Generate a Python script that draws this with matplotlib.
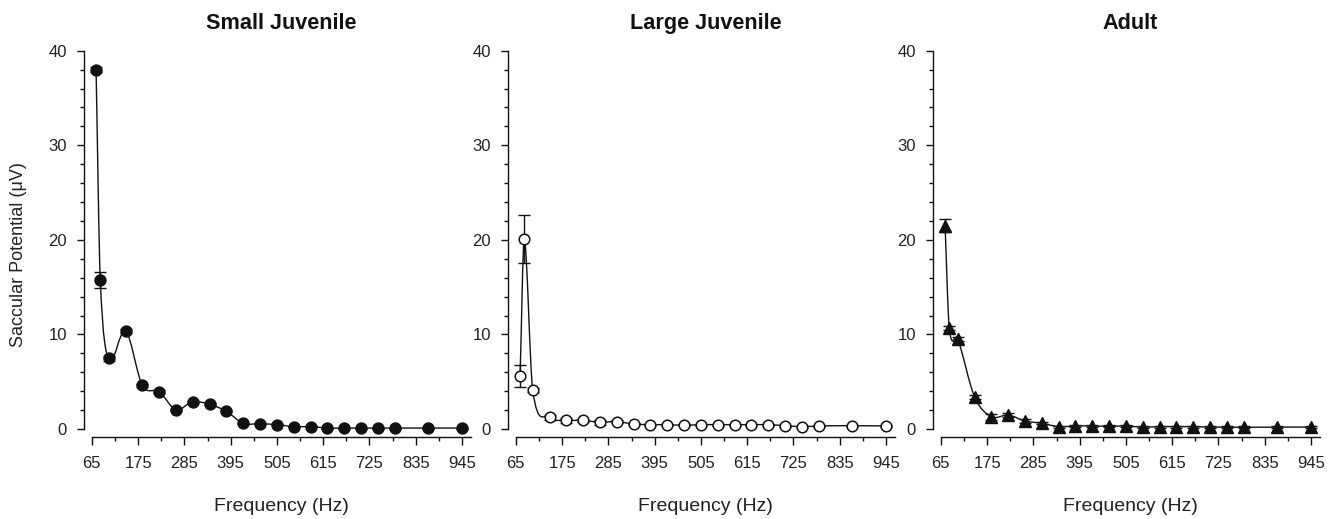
import numpy as np
import matplotlib
matplotlib.use("Agg")
import matplotlib.pyplot as plt
from matplotlib.path import Path
from matplotlib.patches import PathPatch
from matplotlib.ticker import MultipleLocator, FixedLocator

plt.rcParams['font.family'] = ['Liberation Sans', 'DejaVu Sans']

# ---------------- data ----------------
freq = [75, 85, 105, 145, 185, 225, 265, 305, 345, 385, 425, 465, 505, 545,
        585, 625, 665, 705, 745, 785, 865, 945]

small = [38.0, 15.75, 7.47, 10.4, 4.62, 3.95, 2.04, 2.89, 2.61, 1.87, 0.6, 0.56,
         0.46, 0.25, 0.25, 0.1, 0.1, 0.1, 0.1, 0.1, 0.1, 0.1]
small_err = [0.3, 0.85, 0.3, 0.2, 0.15, 0.15, 0.1, 0.1, 0.1, 0.1, 0.05, 0.05,
             0.05, 0.05, 0.05, 0.05, 0.05, 0.05, 0.05, 0.05, 0.05, 0.05]

large = [5.6, 20.09, 4.12, 1.23, 0.92, 0.92, 0.7, 0.78, 0.53, 0.46, 0.46, 0.39,
         0.46, 0.46, 0.46, 0.46, 0.46, 0.35, 0.25, 0.32, 0.35, 0.32]
large_err = [1.15, 2.5, 0.2, 0.3, 0.25, 0.15, 0.3, 0.15, 0.1, 0.1, 0.1, 0.1,
             0.1, 0.1, 0.1, 0.1, 0.1, 0.1, 0.1, 0.1, 0.1, 0.1]

adult = [21.5, 10.64, 9.55, 3.42, 1.3, 1.48, 0.85, 0.6, 0.25, 0.32, 0.32, 0.28,
         0.32, 0.2, 0.25, 0.25, 0.25, 0.2, 0.2, 0.18, 0.2, 0.2]
adult_err = [0.7, 0.2, 0.2, 0.2, 0.3, 0.2, 0.2, 0.1, 0.1, 0.1, 0.1, 0.1,
             0.1, 0.1, 0.1, 0.1, 0.1, 0.1, 0.1, 0.1, 0.1, 0.1]

titles = ["Small Juvenile", "Large Juvenile", "Adult"]
xticks = [65, 175, 285, 395, 505, 615, 725, 835, 945]
yticks = [0, 10, 20, 30, 40]
xlabel = "Frequency (Hz)"
ylabel = "Saccular Potential (\u03bcV)"

# ---------------- helpers ----------------
def smooth_path(x, y):
    """Cubic Hermite (Bezier) curve through the data points."""
    x = np.asarray(x, float)
    y = np.asarray(y, float)
    n = len(x)
    m = np.zeros(n)
    m[0] = (y[1] - y[0]) / (x[1] - x[0])
    m[-1] = (y[-1] - y[-2]) / (x[-1] - x[-2])
    for i in range(1, n - 1):
        m[i] = (y[i + 1] - y[i - 1]) / (x[i + 1] - x[i - 1])
    verts = [(x[0], y[0])]
    codes = [Path.MOVETO]
    for i in range(n - 1):
        h = x[i + 1] - x[i]
        verts += [(x[i] + h / 3, y[i] + m[i] * h / 3),
                  (x[i + 1] - h / 3, y[i + 1] - m[i + 1] * h / 3),
                  (x[i + 1], y[i + 1])]
        codes += [Path.CURVE4] * 3
    return Path(verts, codes)

W, H = 1339, 519
fig = plt.figure(figsize=(W / 100, H / 100), dpi=100)

lefts = [84.3, 508.3, 933.3]
ax_w = 386.5
ax_bottom = 429.0
ax_top = 50.7
ax_h = ax_bottom - ax_top

series = [(small, small_err, dict(marker='o', mfc='#111111', mec='#111111', ms=7.9)),
          (large, large_err, dict(marker='o', mfc='white', mec='#111111', ms=7.6, mew=1.1)),
          (adult, adult_err, dict(marker='^', mfc='#111111', mec='#111111', ms=8.4))]

for k, (vals, errs, mstyle) in enumerate(series):
    ax = fig.add_axes([lefts[k] / W, 1 - ax_bottom / H, ax_w / W, ax_h / H])
    ax.set_xlim(47, 966)
    ax.set_ylim(0, 40)

    ax.add_patch(PathPatch(smooth_path(freq, vals), fill=False, lw=1.0,
                           ec='#111111', zorder=2, clip_on=False))
    ax.errorbar(freq, vals, yerr=errs, fmt='none', ecolor='#111111', elinewidth=1.0,
                capsize=4.6, capthick=1.0, zorder=2.5, clip_on=False)
    ax.plot(freq, vals, linestyle='none', zorder=3, clip_on=False, **mstyle)

    for s in ['top', 'right']:
        ax.spines[s].set_visible(False)
    ax.spines['left'].set_bounds(0, 40)
    ax.spines['bottom'].set_bounds(65, 966)
    ax.spines['bottom'].set_position(('outward', 5.8))
    for s in ['left', 'bottom']:
        ax.spines[s].set_linewidth(1.0)
        ax.spines[s].set_color('#111111')

    ax.xaxis.set_major_locator(FixedLocator(xticks))
    ax.xaxis.set_minor_locator(FixedLocator([t + 55 for t in xticks[:-1]]))
    ax.yaxis.set_major_locator(FixedLocator(yticks))
    ax.yaxis.set_minor_locator(MultipleLocator(2))
    ax.tick_params(which='major', direction='out', length=5.4, width=1.0,
                   color='#111111', labelsize=12, labelcolor='#222222')
    ax.tick_params(which='minor', direction='out', length=3.1, width=1.0, color='#111111')
    ax.tick_params(axis='y', which='major', pad=7.2)
    ax.tick_params(axis='x', which='major', pad=8)

    ax.text((65 + 966) / 2, 1.0 + 27.5 / ax_h, titles[k],
            transform=ax.get_xaxis_transform(), ha='center', va='center',
            fontsize=15.6, fontweight='bold', color='#111111')
    ax.set_xlabel(xlabel, fontsize=14, color='#222222')
    ax.xaxis.set_label_coords(((65 + 966) / 2 - 47) / (966 - 47), -69 / ax_h)
    if k == 0:
        ax.set_ylabel(ylabel, fontsize=13, color='#222222')
        ax.yaxis.set_label_coords(-57 / ax_w, ((429 - 255) / ax_h))

fig.savefig("out.png", dpi=100)
